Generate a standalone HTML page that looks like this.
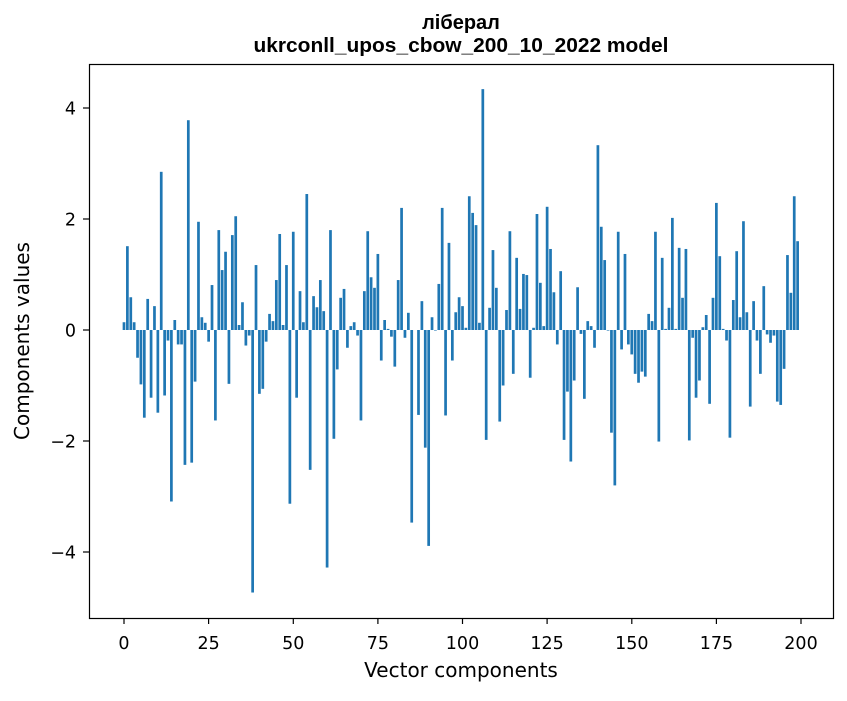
<!DOCTYPE html>
<html><head><meta charset="utf-8"><style>
body{margin:0;background:#fff}
svg text{font-family:"DejaVu Sans","Liberation Sans",sans-serif;fill:#000}
svg text.t{font-family:"Liberation Sans","DejaVu Sans",sans-serif;font-weight:bold}
</style></head><body>
<svg id="s" width="847" height="696" xmlns="http://www.w3.org/2000/svg">
<rect width="847" height="696" fill="#fff"/>
<text class="t" x="461" y="29" font-size="20" text-anchor="middle">ліберал</text>
<text class="t" x="461" y="52" font-size="20" text-anchor="middle" textLength="415" lengthAdjust="spacingAndGlyphs">ukrconll_upos_cbow_200_10_2022 model</text>
<g id="bars" fill="#1f77b4"></g>
<rect x="89.5" y="64.5" width="744" height="554" fill="none" stroke="#000" stroke-width="1.2"/>
<g stroke="#000" stroke-width="1.2">
<line x1="124" y1="618" x2="124" y2="624"/><line x1="208.6" y1="618" x2="208.6" y2="624"/><line x1="293.3" y1="618" x2="293.3" y2="624"/><line x1="377.9" y1="618" x2="377.9" y2="624"/><line x1="462.5" y1="618" x2="462.5" y2="624"/><line x1="547.1" y1="618" x2="547.1" y2="624"/><line x1="631.8" y1="618" x2="631.8" y2="624"/><line x1="716.4" y1="618" x2="716.4" y2="624"/><line x1="801" y1="618" x2="801" y2="624"/>
<line x1="83" y1="108" x2="89" y2="108"/><line x1="83" y1="219" x2="89" y2="219"/><line x1="83" y1="330" x2="89" y2="330"/><line x1="83" y1="441" x2="89" y2="441"/><line x1="83" y1="552" x2="89" y2="552"/>
</g>
<g font-size="17.5" text-anchor="middle">
<text x="124" y="649">0</text><text x="208.6" y="649">25</text><text x="293.3" y="649">50</text><text x="377.9" y="649">75</text><text x="462.5" y="649">100</text><text x="547.1" y="649">125</text><text x="631.8" y="649">150</text><text x="716.4" y="649">175</text><text x="801" y="649">200</text>
</g>
<g font-size="17.5" text-anchor="end">
<text x="76" y="114.5">4</text><text x="76" y="225.5">2</text><text x="76" y="336.5">0</text><text x="76" y="447.5">−2</text><text x="76" y="558.5">−4</text>
</g>
<text x="461" y="677" font-size="20" text-anchor="middle">Vector components</text>
<text transform="translate(29,341) rotate(-90)" font-size="20" text-anchor="middle">Components values</text>
</svg>
<script>
var v=[0.14,1.51,0.59,0.14,-0.5,-0.98,-1.58,0.56,-1.22,0.43,-1.49,2.85,-1.18,-0.19,-3.09,0.18,-0.26,-0.26,-2.43,3.78,-2.39,-0.93,1.95,0.23,0.13,-0.21,0.81,-1.63,1.8,1.08,1.41,-0.97,1.71,2.05,0.09,0.5,-0.28,-0.1,-4.73,1.17,
-1.15,-1.06,-0.21,0.29,0.16,0.9,1.73,0.09,1.17,-3.13,1.77,-1.22,0.7,0.14,2.45,-2.52,0.61,0.41,0.9,0.34,-4.28,1.8,-1.96,-0.71,0.58,0.74,-0.32,0.07,0.14,-0.1,-1.63,0.7,1.78,0.95,0.76,1.37,-0.55,0.18,0.02,-0.12,
-0.66,0.9,2.2,-0.14,0.31,-3.47,0,-1.53,0.52,-2.12,-3.89,0.23,-0.01,0.83,2.2,-1.54,1.57,-0.55,0.32,0.59,0.43,0.04,2.41,2.11,1.89,0.13,4.34,-1.98,0.4,1.44,0.76,-1.65,-1.0,0.36,1.78,-0.79,1.3,0.38,1.01,0.99,
-0.86,0.04,2.09,0.85,0.07,2.22,1.46,0.68,-0.26,1.06,-1.98,-1.11,-2.37,-0.91,0.77,-0.07,-1.24,0.16,0.07,-0.32,3.33,1.86,1.26,-0.01,-1.85,-2.8,1.77,-0.35,1.37,-0.26,-0.44,-0.79,-0.95,-0.75,-0.84,0.29,0.16,1.77,-2.01,1.3,
0.02,0.4,2.02,0.02,1.48,0.58,1.46,-1.99,-0.14,-1.22,-0.91,0.05,0.27,-1.33,0.58,2.29,1.33,0.02,-0.19,-1.94,0.54,1.42,0.23,1.96,0.32,-1.38,0.52,-0.19,-0.79,0.79,-0.08,-0.23,-0.1,-1.29,-1.35,-0.7,1.35,0.67,2.41,1.6];
var g=document.getElementById('bars'),h='';
for(var i=0;i<v.length;i++){var x=124+3.385*i-1.354,y=v[i]>=0?330-v[i]*55.5:330,hh=Math.abs(v[i])*55.5;
h+='<rect x="'+x.toFixed(2)+'" y="'+y.toFixed(2)+'" width="2.71" height="'+hh.toFixed(2)+'"/>';}
g.innerHTML=h;
</script>
</body></html>
